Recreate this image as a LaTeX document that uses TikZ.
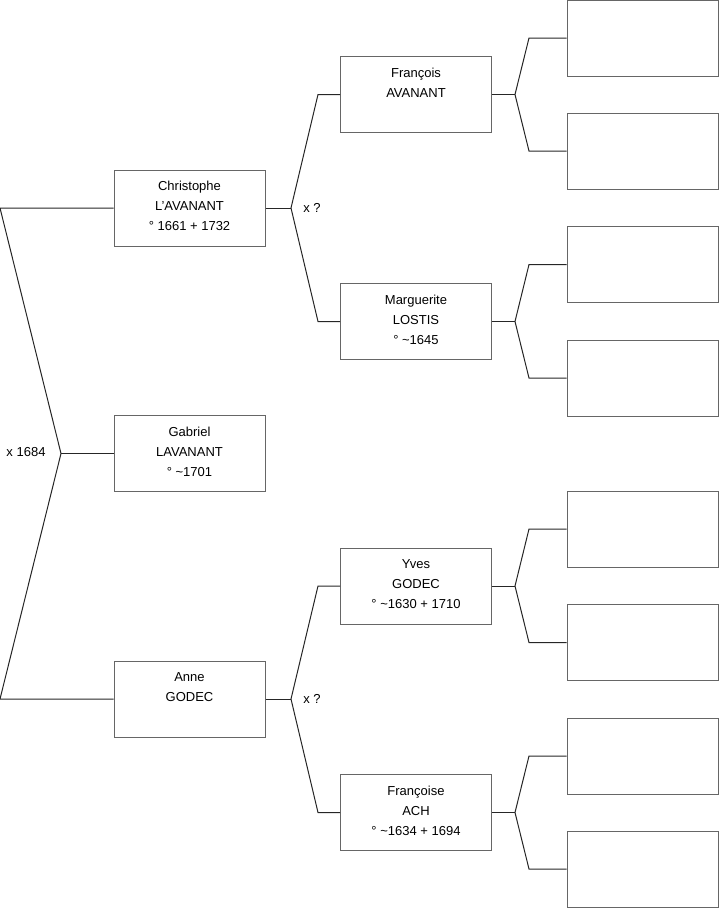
\documentclass[tikz,border=0pt]{standalone}
\usepackage{fontspec}
\setmainfont{Liberation Sans}
% texte d'une fiche, aligne en haut
\newcommand{\infos}[1]{\parbox[c][76pt][t]{151pt}{\centering\rule{0pt}{20.5pt}#1}}

\begin{document}
\begin{tikzpicture}[x=1pt, y=-1pt, font=\fontsize{13}{20}\selectfont,
    personne/.style={draw=black!60, line width=1pt, minimum width=151pt, minimum height=76pt, inner sep=0pt},
    lien/.style={black!85, line width=1pt}]
  \useasboundingbox (0,0) rectangle (719,908);

  % Generation 1
  \node[personne] (christophe) at (189.5,208) {\infos{Christophe\\L'AVANANT\\° 1661 + 1732}};
  \node[personne] (gabriel) at (189.5,453.5) {\infos{Gabriel\\LAVANANT\\° \textasciitilde1701}};
  \node[personne] (anne) at (189.5,699) {\infos{Anne\\GODEC}};

  % Generation 2
  \node[personne] (francois) at (416,94.5) {\infos{François\\AVANANT}};
  \node[personne] (marguerite) at (416,321.5) {\infos{Marguerite\\LOSTIS\\° \textasciitilde1645}};
  \node[personne] (yves) at (416,586) {\infos{Yves\\GODEC\\° \textasciitilde1630 + 1710}};
  \node[personne] (francoise) at (416,812.5) {\infos{Françoise\\ACH\\° \textasciitilde1634 + 1694}};

  % Generation 3 (vide)
  \node[personne] (e1) at (642.5,38) {};
  \node[personne] (e2) at (642.5,151) {};
  \node[personne] (e3) at (642.5,264.5) {};
  \node[personne] (e4) at (642.5,378) {};
  \node[personne] (e5) at (642.5,529) {};
  \node[personne] (e6) at (642.5,642.5) {};
  \node[personne] (e7) at (642.5,756) {};
  \node[personne] (e8) at (642.5,869) {};

  % Parents de Gabriel
  \coordinate (g1) at (0,208);
  \coordinate (g2) at (0,699);
  \coordinate (m0) at (61,453.5);
  \draw[lien] (christophe.west) -- (g1) -- (m0) -- (g2) -- (anne.west);
  \draw[lien] (m0) -- (gabriel.west);
  \node (x0) at (26,452) {x 1684};

  % Parents de Christophe
  \coordinate (m1) at (291,208);
  \coordinate (a1) at (318,94.5);
  \coordinate (a2) at (318,321.5);
  \draw[lien] (francois.west) -- (a1) -- (m1) -- (a2) -- (marguerite.west);
  \draw[lien] (christophe.east) -- (m1);
  \node (x1) at (312,208) {x ?};

  % Parents d'Anne
  \coordinate (m2) at (291,699);
  \coordinate (a3) at (318,586);
  \coordinate (a4) at (318,812.5);
  \draw[lien] (yves.west) -- (a3) -- (m2) -- (a4) -- (francoise.west);
  \draw[lien] (anne.east) -- (m2);
  \node (x2) at (312,699) {x ?};

  % Generation 3
  \coordinate (j1) at (515,94.5);
  \coordinate (k1) at (529,38);
  \coordinate (k2) at (529,151);
  \draw[lien] (e1.west) -- (k1) -- (j1) -- (k2) -- (e2.west);
  \draw[lien] (francois.east) -- (j1);

  \coordinate (j2) at (515,321.5);
  \coordinate (k3) at (529,264.5);
  \coordinate (k4) at (529,378);
  \draw[lien] (e3.west) -- (k3) -- (j2) -- (k4) -- (e4.west);
  \draw[lien] (marguerite.east) -- (j2);

  \coordinate (j3) at (515,586);
  \coordinate (k5) at (529,529);
  \coordinate (k6) at (529,642.5);
  \draw[lien] (e5.west) -- (k5) -- (j3) -- (k6) -- (e6.west);
  \draw[lien] (yves.east) -- (j3);

  \coordinate (j4) at (515,812.5);
  \coordinate (k7) at (529,756);
  \coordinate (k8) at (529,869);
  \draw[lien] (e7.west) -- (k7) -- (j4) -- (k8) -- (e8.west);
  \draw[lien] (francoise.east) -- (j4);
\end{tikzpicture}
\end{document}
